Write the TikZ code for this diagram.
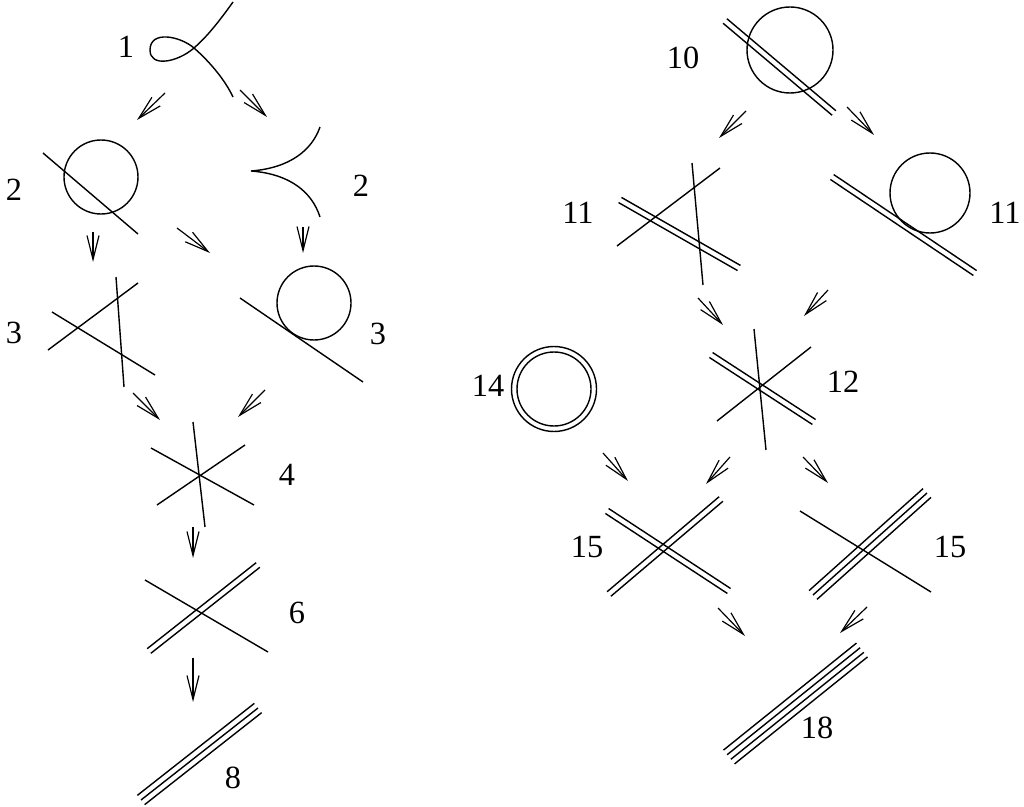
\documentclass[tikz,border=0pt]{standalone}
\usepackage{fontspec}
\setmainfont{Liberation Serif}
\usetikzlibrary{arrows.meta,calc}
\tikzset{
  curve/.style={line width=1pt},
  arr/.style={-{Straight Barb[length=6mm,width=3mm]},line width=0.85pt},
  lbl/.style={font=\fontsize{23}{26}\selectfont,inner sep=0pt},
}
% n parallel strokes between two points, offsets given as a list macro
\newcommand{\parlines}[3]{%
  \foreach \o in #1
    \draw[curve] ($(#2)!\o!90:(#3)$) -- ($(#3)!\o!-90:(#2)$);}
\def\dbl{-2.1pt,2.1pt}
\def\trp{-4.2pt,0pt,4.2pt}
\def\qdr{-6.3pt,-2.1pt,2.1pt,6.3pt}

\begin{document}
\begin{tikzpicture}[x=0.025cm,y=-0.025cm]
  \useasboundingbox (0,0) rectangle (1024,807);
  % ---- left tower ----
  \node[lbl] (n1) at (126,47) {1};
  \draw[curve] (233,2) .. controls (213,30) and (203,40) .. (194,48)
    .. controls (178,62) and (150,68) .. (150,50)
    .. controls (150,30) and (180,36) .. (194,48)
    .. controls (210,62) and (225,80) .. (233,97);
  \node[lbl] (n2a) at (14,190) {2};
  \draw[curve] (101,177) circle (37);
  \draw[curve] (43,153) -- (138,234);
  \node[lbl] (n2b) at (361,186) {2};
  \draw[curve] (320,127) .. controls (312,150) and (290,168) .. (251,171)
    .. controls (290,174) and (312,192) .. (320,217);
  \node[lbl] (n3a) at (14,333) {3};
  \draw[curve] (48,350) -- (138,283);
  \draw[curve] (52,312) -- (155,375);
  \draw[curve] (116,277) -- (124,387);
  \node[lbl] (n3b) at (378,334) {3};
  \draw[curve] (314,303) circle (37);
  \draw[curve] (240,298) -- (363,382);
  \node[lbl] (n4) at (287,475) {4};
  \draw[curve] (151,448) -- (254,505);
  \draw[curve] (157,505) -- (245,445);
  \draw[curve] (193,422) -- (205,527);
  \node[lbl] (n6) at (297,613) {6};
  \draw[curve] (145,580) -- (268,652);
  \parlines{\dbl}{149,651}{258,565}
  \node[lbl] (n8) at (233,778) {8};
  \parlines{\trp}{141,800}{258,708}
  % ---- right tower ----
  \node[lbl] (n10) at (683,58) {10};
  \draw[curve] (790,50) circle (43);
  \parlines{\dbl}{725,21}{834,113}
  \node[lbl] (n11a) at (578,213) {11};
  \parlines{\dbl}{620,200}{739,268}
  \draw[curve] (617,246) -- (720,168);
  \draw[curve] (692,163) -- (703,285);
  \node[lbl] (n11b) at (1005,213) {11};
  \draw[curve] (930,193) circle (40);
  \parlines{\dbl}{832,177}{975,273}
  \node[lbl] (n12) at (843,382) {12};
  \parlines{\dbl}{711,355}{814,422}
  \draw[curve] (717,421) -- (811,347);
  \draw[curve] (754,329) -- (766,450);
  \node[lbl] (n14) at (488,386) {14};
  \draw[curve] (554,389) circle (42.5) (554,389) circle (37);
  \node[lbl] (n15a) at (587,547) {15};
  \parlines{\dbl}{607,511}{729,591}
  \parlines{\dbl}{609,594}{721,499}
  \node[lbl] (n15b) at (950,547) {15};
  \draw[curve] (800,511) -- (931,592);
  \parlines{\trp}{813,595}{927,493}
  \node[lbl] (n18) at (817,728) {18};
  \parlines{\qdr}{729,757}{862,650}
  % ---- degeneration arrows ----
  \foreach \nm/\sx/\sy/\ex/\ey in {
      a/165/93/137/120, b/240/90/267/117, c/93/232/93/262,
      d/177/228/210/253, e/303/227/303/253, f/133/393/160/420,
      g/265/390/238/417, h/193/527/193/558, i/193/658/193/702,
      j/746/111/719/138, k/847/107/874/135, l/698/298/723/325,
      m/828/290/804/316, n/603/453/628/481, o/730/457/706/484,
      p/803/457/828/483, q/718/608/745/636, r/867/607/840/633} {
    \coordinate (\nm s) at (\sx,\sy);
    \coordinate (\nm e) at (\ex,\ey);
    \draw[arr] (\nm s) -- (\nm e);
  }
\end{tikzpicture}
\end{document}
